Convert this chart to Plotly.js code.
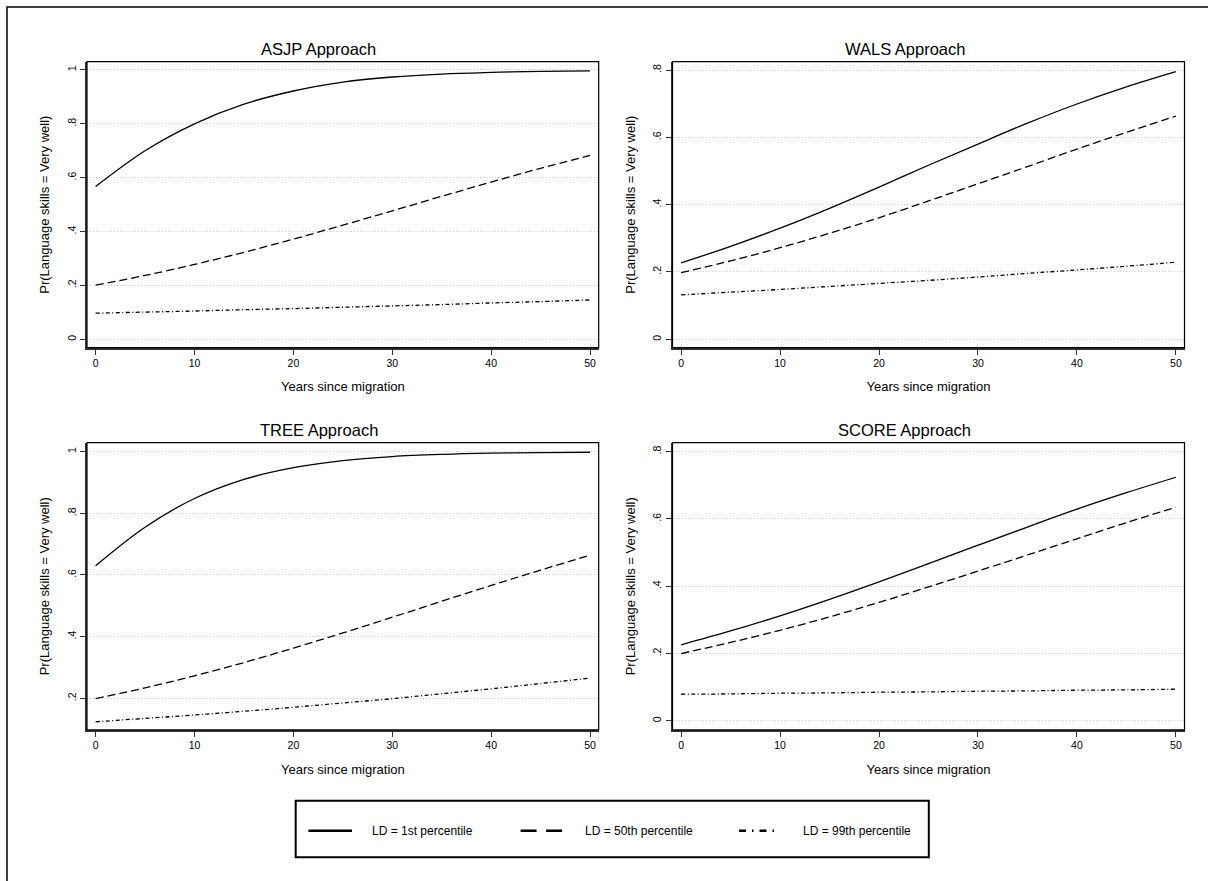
<!DOCTYPE html>
<html>
<head>
<meta charset="utf-8">
<script src="https://cdn.plot.ly/plotly-3.0.1.min.js"></script>
<style>html,body{margin:0;padding:0;background:#fff;}#chart{width:1208px;height:881px;}</style>
</head>
<body>
<div id="chart"></div>
<script>
// ---- Data ----
const years = [0, 5, 10, 15, 20, 25, 30, 35, 40, 45, 50];

const asjpP1  = [0.567, 0.700, 0.800, 0.873, 0.922, 0.955, 0.974, 0.985, 0.991, 0.995, 0.997];
const asjpP50 = [0.201, 0.237, 0.278, 0.323, 0.372, 0.424, 0.477, 0.531, 0.584, 0.635, 0.683];
const asjpP99 = [0.097, 0.101, 0.105, 0.110, 0.114, 0.119, 0.124, 0.129, 0.135, 0.140, 0.146];

const walsP1  = [0.227, 0.276, 0.330, 0.389, 0.452, 0.517, 0.580, 0.642, 0.699, 0.750, 0.795];
const walsP50 = [0.198, 0.233, 0.272, 0.315, 0.361, 0.411, 0.462, 0.513, 0.565, 0.615, 0.663];
const walsP99 = [0.132, 0.140, 0.148, 0.157, 0.166, 0.175, 0.185, 0.196, 0.206, 0.217, 0.229];

const treeP1  = [0.630, 0.755, 0.848, 0.910, 0.948, 0.971, 0.984, 0.991, 0.995, 0.997, 0.998];
const treeP50 = [0.199, 0.234, 0.273, 0.316, 0.363, 0.412, 0.463, 0.515, 0.566, 0.616, 0.664];
const treeP99 = [0.124, 0.135, 0.146, 0.158, 0.171, 0.185, 0.199, 0.215, 0.231, 0.248, 0.266];

const scoreP1  = [0.226, 0.267, 0.312, 0.361, 0.413, 0.467, 0.522, 0.576, 0.629, 0.678, 0.724];
const scoreP50 = [0.200, 0.233, 0.269, 0.309, 0.352, 0.398, 0.445, 0.493, 0.541, 0.589, 0.635];
const scoreP99 = [0.079, 0.080, 0.082, 0.083, 0.085, 0.086, 0.088, 0.089, 0.091, 0.092, 0.094];

const panelTitles = ["ASJP Approach", "WALS Approach", "TREE Approach", "SCORE Approach"];
const seriesNames = ["LD = 1st percentile", "LD = 50th percentile", "LD = 99th percentile"];
const xTickVals = [0, 10, 20, 30, 40, 50];
const xTickText = ["0", "10", "20", "30", "40", "50"];
const yTickVals1 = [0, 0.2, 0.4, 0.6, 0.8, 1];
const yTickText1 = ["0", ".2", ".4", ".6", ".8", "1"];
const yTickVals08 = [0, 0.2, 0.4, 0.6, 0.8];
const yTickText08 = ["0", ".2", ".4", ".6", ".8"];
const yTickValsTree = [0.2, 0.4, 0.6, 0.8, 1];
const yTickTextTree = [".2", ".4", ".6", ".8", "1"];
const xTitle = "Years since migration";
const yTitle = "Pr(Language skills = Very well)";

// ---- Build ----
const W = 1208, H = 881;
const px = v => v / W;
const py = v => 1 - v / H;
const FONT = "Liberation Sans, Arial, Helvetica, sans-serif";
const dashes = ["solid", "8px,4px", "4px,2.5px,1px,2.5px"];

const panels = [
  {sets: [asjpP1, asjpP50, asjpP99], ax: "", yr: [-0.0312, 1.0308], tv: yTickVals1, tt: yTickText1},
  {sets: [walsP1, walsP50, walsP99], ax: "2", yr: [-0.025, 0.8247], tv: yTickVals08, tt: yTickText08},
  {sets: [treeP1, treeP50, treeP99], ax: "3", yr: [0.098, 1.029], tv: yTickValsTree, tt: yTickTextTree},
  {sets: [scoreP1, scoreP50, scoreP99], ax: "4", yr: [-0.0267, 0.8267], tv: yTickVals08, tt: yTickText08}
];
const xDom = [[px(87), px(598.7)], [px(672.5), px(1184.5)]];
const yDom = [[py(347.7), py(61.7)], [py(729.8), py(442.7)]];

const traces = [];
const layout = {
  width: W, height: H,
  margin: {l: 0, r: 0, t: 0, b: 0},
  paper_bgcolor: "#fff", plot_bgcolor: "#fff",
  showlegend: false,
  font: {family: FONT, color: "#000"},
  shapes: [], annotations: []
};

panels.forEach((p, i) => {
  const col = i % 2, row = Math.floor(i / 2);
  p.sets.forEach((vals, k) => {
    traces.push({
      x: years, y: vals, name: seriesNames[k],
      xaxis: "x" + p.ax, yaxis: "y" + p.ax,
      mode: "lines", hoverinfo: "x+y",
      line: {color: "#000", width: 1.3, dash: dashes[k], shape: "spline", smoothing: 1}
    });
  });
  layout["xaxis" + p.ax] = {
    domain: xDom[col], anchor: "y" + p.ax, range: [-0.87, 50.87],
    tickvals: xTickVals, ticktext: xTickText,
    ticks: "outside", ticklen: 5, tickwidth: 1, tickcolor: "#333",
    showline: true, linewidth: 2, linecolor: "#333",
    showgrid: false, zeroline: false,
    tickfont: {size: 10.5, color: "#000"},
    title: {text: xTitle, font: {size: 13, color: "#000"}, standoff: 14}
  };
  layout["yaxis" + p.ax] = {
    domain: yDom[row], anchor: "x" + p.ax, range: p.yr,
    tickvals: p.tv, ticktext: p.tt, tickangle: -90,
    ticks: "outside", ticklen: 5, tickwidth: 1, tickcolor: "#333",
    showline: true, linewidth: 2, linecolor: "#333",
    showgrid: true, gridcolor: "#cfcfcf", gridwidth: 1, griddash: "1px,2px",
    zeroline: false,
    tickfont: {size: 10.5, color: "#000"},
    title: {text: yTitle, font: {size: 13, color: "#000"}, standoff: 13}
  };
  // plot frame
  layout.shapes.push({
    type: "rect", xref: "x" + p.ax + " domain", yref: "y" + p.ax + " domain",
    x0: 0, x1: 1, y0: 0, y1: 1, line: {color: "#000", width: 1.2}, layer: "above"
  });
  // panel title
  layout.annotations.push({
    text: panelTitles[i], xref: "paper", yref: "paper",
    x: px(col === 0 ? 318.5 : 904.8), y: py(row === 0 ? 48.8 : 430.3),
    xanchor: "center", yanchor: "middle", showarrow: false,
    font: {size: 16.5, color: "#000", family: FONT}
  });
});

// outer border
layout.shapes.push({
  type: "rect", xref: "paper", yref: "paper",
  x0: px(7), x1: 1.02, y0: -0.02, y1: py(7),
  line: {color: "#000", width: 1.5}
});

// legend (box, samples, labels)
const legY = py(830.7);
layout.shapes.push({
  type: "rect", xref: "paper", yref: "paper",
  x0: px(295.7), x1: px(928.8), y0: py(857.3), y1: py(800.7),
  line: {color: "#000", width: 2}
});
const legSample = [[308.4, 352], [520.6, 563.5], [739, 776.5]];
const legDash = ["solid", "16px,9.5px", "7px,6px,1.5px,6px"];
const legText = [369.6, 583, 801];
seriesNames.forEach((nm, k) => {
  layout.shapes.push({
    type: "line", xref: "paper", yref: "paper",
    x0: px(legSample[k][0]), x1: px(legSample[k][1]), y0: legY, y1: legY,
    line: {color: "#000", width: 2.6, dash: legDash[k]}
  });
  layout.annotations.push({
    text: nm, xref: "paper", yref: "paper", x: px(legText[k]), y: legY,
    xanchor: "left", yanchor: "middle", showarrow: false,
    font: {size: 12, color: "#000", family: FONT}
  });
});

Plotly.newPlot("chart", traces, layout, {staticPlot: true, displayModeBar: false});
</script>
</body>
</html>
